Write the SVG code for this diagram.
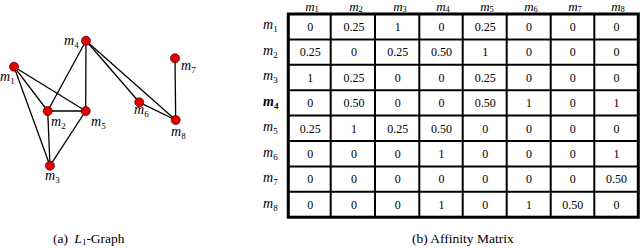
<svg xmlns="http://www.w3.org/2000/svg" width="640" height="248" viewBox="0 0 640 248">
<style>
text{font-family:"Liberation Serif","Times New Roman",serif;fill:#000}
.lab{font-size:14px;font-style:italic}
.hd{font-size:13px;font-style:italic}
.sub{font-size:9px;font-style:normal}
.hsub{font-size:8.5px;font-style:normal}
.val{font-size:12px;text-anchor:middle}
.cap{font-size:13.5px}
.edge{stroke:#000;stroke-width:1.3;fill:none}
.node{fill:#e00000;stroke:#600;stroke-width:0.8}
.grid{stroke:#000;stroke-width:2;fill:none}
</style>
<g id="connectors">
<line class="edge" x1="14" y1="66.7" x2="47.7" y2="111"/>
<line class="edge" x1="14" y1="66.7" x2="85.7" y2="111"/>
<line class="edge" x1="14" y1="66.7" x2="50" y2="165.7"/>
<line class="edge" x1="47.7" y1="111" x2="85.7" y2="111"/>
<line class="edge" x1="47.7" y1="111" x2="50" y2="165.7"/>
<line class="edge" x1="47.7" y1="111" x2="86" y2="40.7"/>
<line class="edge" x1="86" y1="40.7" x2="85.7" y2="111"/>
<line class="edge" x1="85.7" y1="111" x2="50" y2="165.7"/>
<line class="edge" x1="86" y1="40.7" x2="139.3" y2="102.3"/>
<line class="edge" x1="86" y1="40.7" x2="175.7" y2="120"/>
<line class="edge" x1="139.3" y1="102.3" x2="175.7" y2="120"/>
<line class="edge" x1="175" y1="58.3" x2="175.7" y2="120"/>
</g>
<g id="m1"><circle class="node" cx="14" cy="66.7" r="4.5"/><text class="lab" x="0" y="81">m<tspan class="sub" dy="3">1</tspan></text></g>
<g id="m2"><circle class="node" cx="47.7" cy="111" r="4.5"/><text class="lab" x="51" y="126">m<tspan class="sub" dy="3">2</tspan></text></g>
<g id="m3"><circle class="node" cx="50" cy="165.7" r="4.5"/><text class="lab" x="45" y="180">m<tspan class="sub" dy="3">3</tspan></text></g>
<g id="m4"><circle class="node" cx="86" cy="40.7" r="4.5"/><text class="lab" x="64" y="45">m<tspan class="sub" dy="3">4</tspan></text></g>
<g id="m5"><circle class="node" cx="85.7" cy="111" r="4.5"/><text class="lab" x="91" y="126">m<tspan class="sub" dy="3">5</tspan></text></g>
<g id="m6"><circle class="node" cx="139.3" cy="102.3" r="4.5"/><text class="lab" x="134" y="114">m<tspan class="sub" dy="3">6</tspan></text></g>
<g id="m7"><circle class="node" cx="175" cy="58.3" r="4.5"/><text class="lab" x="181" y="70">m<tspan class="sub" dy="3">7</tspan></text></g>
<g id="m8"><circle class="node" cx="175.7" cy="120" r="4.5"/><text class="lab" x="171" y="136">m<tspan class="sub" dy="3">8</tspan></text></g>
<g id="matrix">
<rect x="288.3" y="14" width="350" height="203.2" fill="none" stroke="#000" stroke-width="3"/>
<path class="grid" d="M330.7 14V217.2M375 14V217.2M419.3 14V217.2M462.7 14V217.2M506.7 14V217.2M550.7 14V217.2M594.3 14V217.2M288.3 39.4H638.3M288.3 64.8H638.3M288.3 90.2H638.3M288.3 115.6H638.3M288.3 141H638.3M288.3 166.4H638.3M288.3 191.8H638.3"/>
<g text-anchor="middle">
<text class="hd" x="312" y="11.3">m<tspan class="hsub" dy="0.6">1</tspan></text>
<text class="hd" x="356" y="11.3">m<tspan class="hsub" dy="0.6">2</tspan></text>
<text class="hd" x="400" y="11.3">m<tspan class="hsub" dy="0.6">3</tspan></text>
<text class="hd" x="443" y="11.3">m<tspan class="hsub" dy="0.6">4</tspan></text>
<text class="hd" x="487" y="11.3">m<tspan class="hsub" dy="0.6">5</tspan></text>
<text class="hd" x="531" y="11.3">m<tspan class="hsub" dy="0.6">6</tspan></text>
<text class="hd" x="575" y="11.3">m<tspan class="hsub" dy="0.6">7</tspan></text>
<text class="hd" x="618" y="11.3">m<tspan class="hsub" dy="0.6">8</tspan></text>
</g>
<text class="lab" x="263" y="29">m<tspan class="sub" dy="3">1</tspan></text>
<text class="lab" x="263" y="54.5">m<tspan class="sub" dy="3">2</tspan></text>
<text class="lab" x="263" y="80">m<tspan class="sub" dy="3">3</tspan></text>
<text class="lab" x="263" y="105.5" font-weight="bold">m<tspan class="sub" dy="3">4</tspan></text>
<text class="lab" x="263" y="131">m<tspan class="sub" dy="3">5</tspan></text>
<text class="lab" x="263" y="156.5">m<tspan class="sub" dy="3">6</tspan></text>
<text class="lab" x="263" y="182">m<tspan class="sub" dy="3">7</tspan></text>
<text class="lab" x="263" y="207.5">m<tspan class="sub" dy="3">8</tspan></text>
<g>
<text class="val" x="310.2" y="30.9">0</text><text class="val" x="354" y="30.9">0.25</text><text class="val" x="397.7" y="30.9">1</text><text class="val" x="441.4" y="30.9">0</text><text class="val" x="485.2" y="30.9">0.25</text><text class="val" x="529" y="30.9">0</text><text class="val" x="572.7" y="30.9">0</text><text class="val" x="616.4" y="30.9">0</text>
<text class="val" x="310.2" y="56.3">0.25</text><text class="val" x="354" y="56.3">0</text><text class="val" x="397.7" y="56.3">0.25</text><text class="val" x="441.4" y="56.3">0.50</text><text class="val" x="485.2" y="56.3">1</text><text class="val" x="529" y="56.3">0</text><text class="val" x="572.7" y="56.3">0</text><text class="val" x="616.4" y="56.3">0</text>
<text class="val" x="310.2" y="81.7">1</text><text class="val" x="354" y="81.7">0.25</text><text class="val" x="397.7" y="81.7">0</text><text class="val" x="441.4" y="81.7">0</text><text class="val" x="485.2" y="81.7">0.25</text><text class="val" x="529" y="81.7">0</text><text class="val" x="572.7" y="81.7">0</text><text class="val" x="616.4" y="81.7">0</text>
<text class="val" x="310.2" y="107.1">0</text><text class="val" x="354" y="107.1">0.50</text><text class="val" x="397.7" y="107.1">0</text><text class="val" x="441.4" y="107.1">0</text><text class="val" x="485.2" y="107.1">0.50</text><text class="val" x="529" y="107.1">1</text><text class="val" x="572.7" y="107.1">0</text><text class="val" x="616.4" y="107.1">1</text>
<text class="val" x="310.2" y="132.5">0.25</text><text class="val" x="354" y="132.5">1</text><text class="val" x="397.7" y="132.5">0.25</text><text class="val" x="441.4" y="132.5">0.50</text><text class="val" x="485.2" y="132.5">0</text><text class="val" x="529" y="132.5">0</text><text class="val" x="572.7" y="132.5">0</text><text class="val" x="616.4" y="132.5">0</text>
<text class="val" x="310.2" y="157.9">0</text><text class="val" x="354" y="157.9">0</text><text class="val" x="397.7" y="157.9">0</text><text class="val" x="441.4" y="157.9">1</text><text class="val" x="485.2" y="157.9">0</text><text class="val" x="529" y="157.9">0</text><text class="val" x="572.7" y="157.9">0</text><text class="val" x="616.4" y="157.9">1</text>
<text class="val" x="310.2" y="183.3">0</text><text class="val" x="354" y="183.3">0</text><text class="val" x="397.7" y="183.3">0</text><text class="val" x="441.4" y="183.3">0</text><text class="val" x="485.2" y="183.3">0</text><text class="val" x="529" y="183.3">0</text><text class="val" x="572.7" y="183.3">0</text><text class="val" x="616.4" y="183.3">0.50</text>
<text class="val" x="310.2" y="208.7">0</text><text class="val" x="354" y="208.7">0</text><text class="val" x="397.7" y="208.7">0</text><text class="val" x="441.4" y="208.7">1</text><text class="val" x="485.2" y="208.7">0</text><text class="val" x="529" y="208.7">1</text><text class="val" x="572.7" y="208.7">0.50</text><text class="val" x="616.4" y="208.7">0</text>
</g>
</g>
<text class="cap" x="53" y="243">(a) <tspan font-style="italic" dx="3">L</tspan><tspan font-size="9" dy="2">1</tspan><tspan dy="-2">-Graph</tspan></text>
<text class="cap" x="412" y="243">(b) Affinity Matrix</text>
</svg>
